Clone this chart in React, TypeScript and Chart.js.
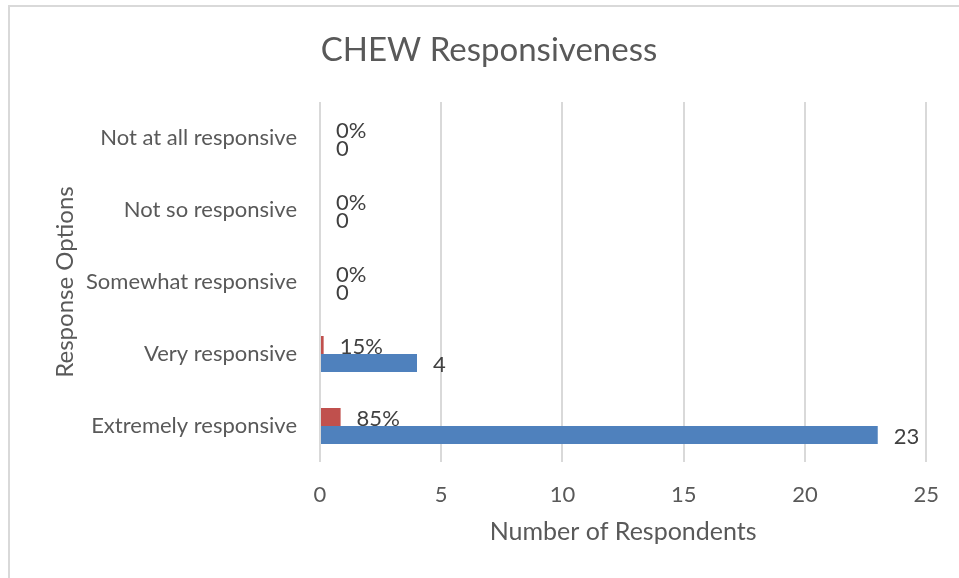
import { useEffect, useRef } from "react";
import { Chart, registerables } from "chart.js";

Chart.register(...registerables);

const categories = [
  "Not at all responsive",
  "Not so responsive",
  "Somewhat responsive",
  "Very responsive",
  "Extremely responsive",
];
const respondents = [0, 0, 0, 4, 23];
const shares = [0, 0, 0, 0.15, 0.85];
const xTickValues = [0, 5, 10, 15, 20, 25];

const FONT = "Lato, 'Noto Sans', sans-serif";
const TEXT = "#595959";
const LABEL = "#404040";
const GRID = "#d9d9d9";

const W = 959;
const H = 578;
const PLOT = { left: 320, right: 929, top: 102, bottom: 462 };

// Title, axis titles and the value labels next to every bar
const decorations = {
  id: "decorations",
  afterDatasetsDraw(chart: Chart) {
    const ctx = chart.ctx;
    const area = chart.chartArea;
    ctx.save();
    ctx.fillStyle = TEXT;
    ctx.textAlign = "center";
    ctx.textBaseline = "alphabetic";
    ctx.font = `33px ${FONT}`;
    ctx.fillText("CHEW Responsiveness", 489, 61);

    ctx.font = `25px ${FONT}`;
    ctx.fillText("Number of Respondents", (area.left + area.right) / 2, 540);

    ctx.font = `24px ${FONT}`;
    ctx.save();
    ctx.translate(73, (area.top + area.bottom) / 2);
    ctx.rotate(-Math.PI / 2);
    ctx.fillText("Response Options", 0, 0);
    ctx.restore();

    ctx.fillStyle = LABEL;
    ctx.textAlign = "left";
    ctx.textBaseline = "middle";
    ctx.font = `22px ${FONT}`;
    chart.data.datasets.forEach((ds, di) => {
      const meta = chart.getDatasetMeta(di);
      meta.data.forEach((el: any, i: number) => {
        const v = ds.data[i] as number;
        const text = di === 0 ? `${Math.round(v * 100)}%` : String(v);
        ctx.fillText(text, el.x + 16, el.y + 2);
      });
    });
    ctx.restore();
  },
};

export default function App() {
  const ref = useRef<HTMLCanvasElement>(null);

  useEffect(() => {
    if (!ref.current) return;
    const chart = new Chart(ref.current, {
      type: "bar",
      data: {
        labels: categories,
        datasets: [
          {
            label: "Percentage",
            data: shares,
            backgroundColor: "#c0504d",
            categoryPercentage: 0.5,
            barPercentage: 1,
          },
          {
            label: "Number of Respondents",
            data: respondents,
            backgroundColor: "#4f81bd",
            categoryPercentage: 0.5,
            barPercentage: 1,
          },
        ],
      },
      options: {
        indexAxis: "y",
        animation: false,
        responsive: false,
        devicePixelRatio: 1,
        layout: {
          padding: { top: PLOT.top, right: W - PLOT.right, left: 0, bottom: 0 },
        },
        plugins: {
          legend: { display: false },
          title: { display: false },
          tooltip: { enabled: false },
        },
        scales: {
          x: {
            min: 0,
            max: 25,
            afterBuildTicks(scale: any) {
              scale.ticks = xTickValues.map((v) => ({ value: v }));
            },
            afterFit(scale: any) {
              scale.height = H - PLOT.bottom;
            },
            grid: { color: GRID, lineWidth: 2, drawTicks: false },
            border: { display: false },
            ticks: {
              color: TEXT,
              padding: 20,
              font: { family: FONT, size: 22 },
            },
          },
          y: {
            afterFit(scale: any) {
              scale.width = PLOT.left;
            },
            grid: { display: false, drawTicks: false },
            border: { display: false },
            ticks: {
              color: TEXT,
              padding: 23,
              font: { family: FONT, size: 22 },
            },
          },
        },
      },
      plugins: [decorations],
    });
    return () => chart.destroy();
  }, []);

  return (
    <div style={{ position: "absolute", left: 0, top: 0, width: W, height: H, background: "#fff", overflow: "hidden" }}>
      <div
        style={{
          position: "absolute",
          left: 8,
          top: 5,
          width: W,
          height: H,
          borderLeft: `2px solid ${GRID}`,
          borderTop: `2px solid ${GRID}`,
        }}
      />
      <canvas ref={ref} width={W} height={H} style={{ position: "absolute", left: 0, top: 0 }} />
    </div>
  );
}
